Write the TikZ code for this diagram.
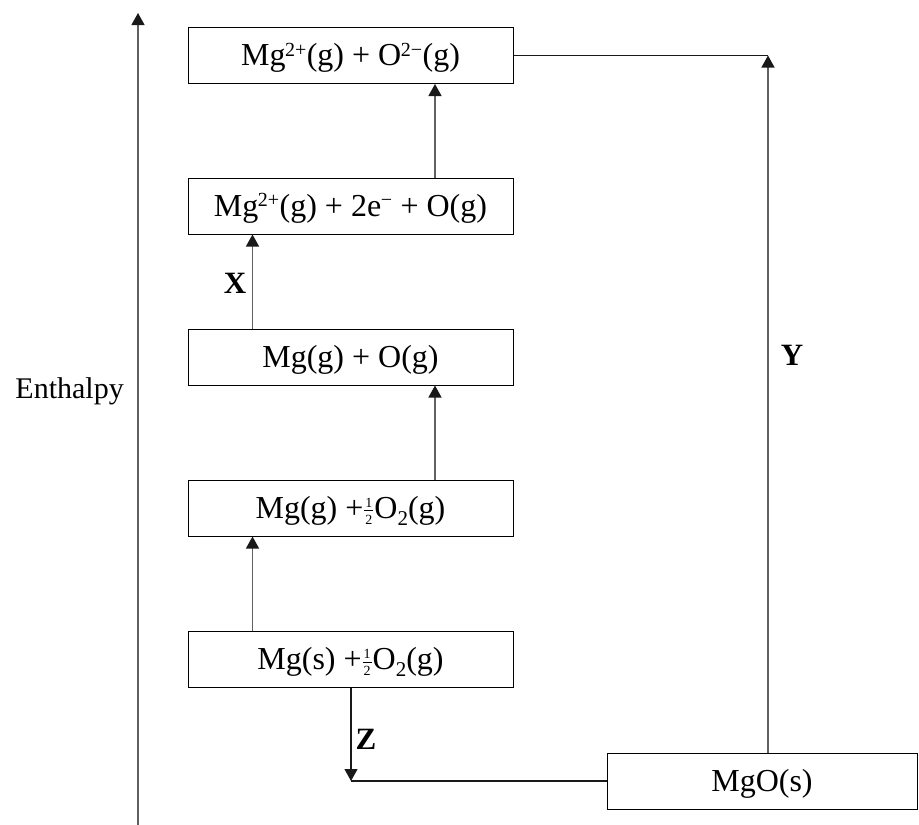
\documentclass[tikz,border=0pt]{standalone}
\usepackage{fontspec}
\setmainfont{Liberation Serif}
\usetikzlibrary{arrows.meta}
\newcommand\halffrac{\kern1pt\rlap{\raisebox{11pt}{\makebox[9pt]{\fontsize{14}{14}\selectfont 1}}}\rlap{\rule[7pt]{9pt}{0.7pt}}\raisebox{-6pt}{\makebox[9pt]{\fontsize{14}{14}\selectfont 2}}\kern1pt}
\newcommand\supx[1]{\textsuperscript{\kern-0.02em\fontsize{20}{22}\selectfont #1}}
\newcommand\subtwo{\raisebox{-7pt}{\fontsize{21}{22}\selectfont 2}}
\begin{document}
\begin{tikzpicture}[x=1pt,y=-1pt,
  box/.style={draw, line width=1pt, minimum width=325pt, minimum height=56pt,
    inner sep=0pt, text height=20pt, text depth=0pt, font=\fontsize{32}{36}\selectfont},
  arr/.style={line width=1.2pt, draw=black!62, -{Triangle[width=13pt,length=12pt,color=black!90]}},
  conn/.style={line width=1.1pt, draw=black!90},
  lbl/.style={font=\fontsize{31}{36}\selectfont\bfseries, inner sep=0pt},
  txt/.style={font=\fontsize{30}{34}\selectfont, inner sep=0pt}]
\useasboundingbox (0,0) rectangle (919,825);
\node[box] (b1) at (350.5,55.5) {Mg\supx{2+}(g) + O\supx{2−}(g)};
\node[box] (b2) at (350.5,206) {Mg\supx{2+}(g) + 2e\supx{−} + O(g)};
\node[box] (b3) at (350.5,357) {Mg(g) + O(g)};
\node[box] (b4) at (350.5,508) {Mg(g) +\halffrac O\subtwo(g)};
\node[box] (b5) at (350.5,659.5) {Mg(s) +\halffrac O\subtwo(g)};
\node[box, minimum width=310pt] (mgo) at (762,781) {MgO(s)};
\coordinate (xl) at (252.5,0);
\coordinate (xr) at (435,0);
\coordinate (yc) at (768,0);
\coordinate (zc) at (351,0);
\coordinate (axb) at (138,825);
\coordinate (axt) at (138,13);
\draw[arr] (axb) -- (axt);
\draw[arr] (b5.north -| xl) -- (b4.south -| xl);
\draw[arr] (b4.north -| xr) -- (b3.south -| xr);
\draw[arr] (b3.north -| xl) -- (b2.south -| xl);
\draw[arr] (b2.north -| xr) -- (b1.south -| xr);
\draw[conn] (b1.east) -- (b1.east -| yc);
\draw[arr] (mgo.north -| yc) -- (b1.east -| yc);
\draw[arr, draw=black!90] (b5.south -| zc) -- (mgo.west -| zc);
\draw[conn] (mgo.west -| zc) -- (mgo.west);
\node[lbl] (lx) at (235,283) {X};
\node[lbl] (ly) at (792,355) {Y};
\node[lbl] (lz) at (366,739) {Z};
\node[txt, anchor=base east] (en) at (124,398) {Enthalpy};
\end{tikzpicture}
\end{document}
